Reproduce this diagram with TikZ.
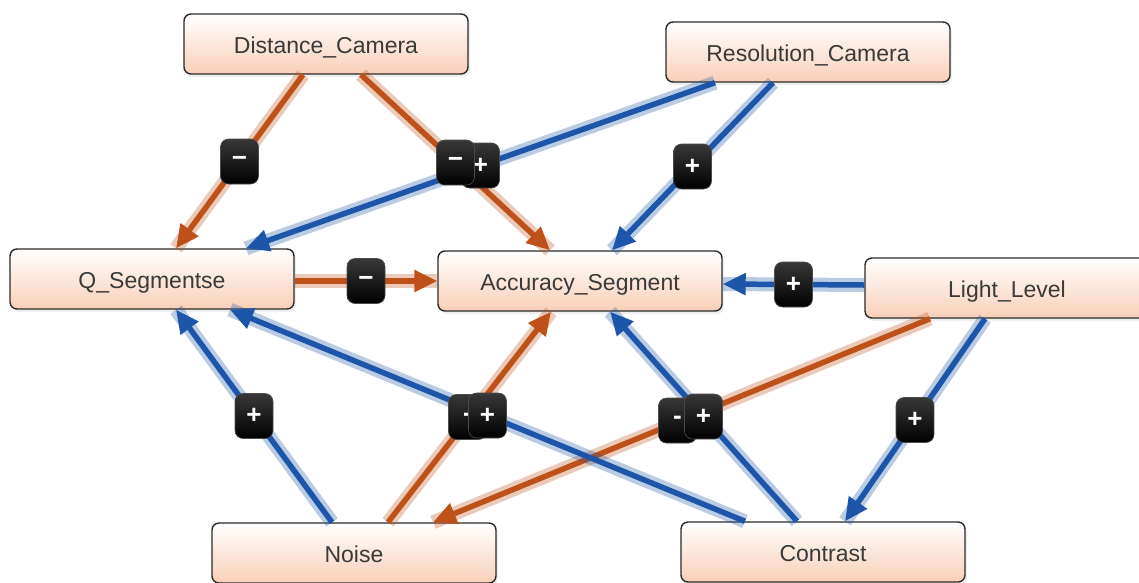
\documentclass[tikz,border=0pt]{standalone}
\usepackage{fontspec}
\setmainfont{Liberation Sans}
\usetikzlibrary{arrows.meta,shadows}
\definecolor{cblue}{HTML}{1D56A8}
\definecolor{corange}{HTML}{BE5119}
\definecolor{peach}{HTML}{F9CFB8}
\definecolor{txt}{HTML}{3A3A3A}
\definecolor{bord}{HTML}{2A2A2A}
\tikzset{
  var/.style={draw=bord, line width=1.4pt, rounded corners=7pt,
    top color=white, bottom color=peach, minimum width=284pt, minimum height=60pt,
    inner sep=0pt, text=txt, font=\fontsize{23}{27}\selectfont,
    text height=24pt, text depth=5pt,
    drop shadow={opacity=0.12, shadow xshift=2pt, shadow yshift=-3pt}},
  posedge/.style={draw=cblue, line width=5.5pt,
    -{Triangle[length=23pt,width=21pt]},
    preaction={draw=cblue, draw opacity=0.3, line width=14pt, -}},
  negedge/.style={draw=corange, line width=5.5pt,
    -{Triangle[length=23pt,width=21pt]},
    preaction={draw=corange, draw opacity=0.3, line width=14pt, -}},
  badge/.style={top color=black!78, bottom color=black, draw=black!70, line width=0.6pt,
    rounded corners=8pt,
    minimum width=38pt, minimum height=45pt, inner sep=0pt, text=white,
    font=\fontsize{26}{28}\selectfont\bfseries}
}
\begin{document}
\begin{tikzpicture}[x=1pt,y=-1pt]
\clip (0,0) rectangle (1139,582);
\fill[white] (0,0) rectangle (1139,582);

% nodes
\node[var] (dc) at (326,44) {Distance\_Camera};
\node[var] (rc) at (808,52) {Resolution\_Camera};
\node[var] (qs) at (152,279) {Q\_Segmentse};
\node[var] (as) at (580,281) {Accuracy\_Segment};
\node[var] (ll) at (1007,288) {Light\_Level};
\node[var] (no) at (354,553) {Noise};
\node[var] (co) at (823,552) {Contrast};

% edges
\draw[negedge] ([xshift=-23pt]dc.south) -- coordinate[pos=0.5] (m1) ([xshift=24pt]qs.north);
\draw[negedge] ([xshift=35pt]dc.south) -- coordinate[pos=0.5] (m2) ([xshift=-30pt]as.north);
\draw[posedge] ([xshift=-93pt]rc.south) -- coordinate[pos=0.5] (m3) ([xshift=94pt]qs.north);
\draw[posedge] ([xshift=-35pt]rc.south) -- coordinate[pos=0.5] (m4) ([xshift=32pt]as.north);
\draw[negedge] ([yshift=-2pt]qs.east) -- coordinate[pos=0.5] (m5) (as.west);
\draw[posedge] ([yshift=3pt]ll.west) -- coordinate[pos=0.5] (m6) ([yshift=-3pt]as.east);
\draw[negedge] ([xshift=-77pt]ll.south) -- coordinate[pos=0.5] (m7) ([xshift=79pt]no.north);
\draw[posedge] ([xshift=-22pt]ll.south) -- coordinate[pos=0.5] (m8) ([xshift=22pt]co.north);
\draw[posedge] ([xshift=-22pt]no.north) -- coordinate[pos=0.5] (m9) ([xshift=24pt]qs.south);
\draw[negedge] ([xshift=34pt]no.north) -- coordinate[pos=0.5] (m10) ([xshift=-29pt]as.south);
\draw[posedge] ([xshift=-78pt]co.north) -- coordinate[pos=0.5] (m11) ([xshift=78pt]qs.south);
\draw[posedge] ([xshift=-26pt]co.north) -- coordinate[pos=0.5] (m12) ([xshift=30pt]as.south);

% badges
\node[badge] (b1) at (m1) {−};
\node[badge] (b3) at (m3) {+};
\node[badge] (b2) at (m2) {−};
\node[badge] (b4) at (m4) {+};
\node[badge] (b5) at (m5) {−};
\node[badge] (b6) at (m6) {+};
\node[badge] (b7) at ([xshift=-4pt]m7) {-};
\node[badge] (b12) at (m12) {+};
\node[badge] (b8) at (m8) {+};
\node[badge] (b9) at (m9) {+};
\node[badge] (b10) at ([xshift=-2pt]m10) {-};
\node[badge] (b11) at (m11) {+};
\end{tikzpicture}
\end{document}
